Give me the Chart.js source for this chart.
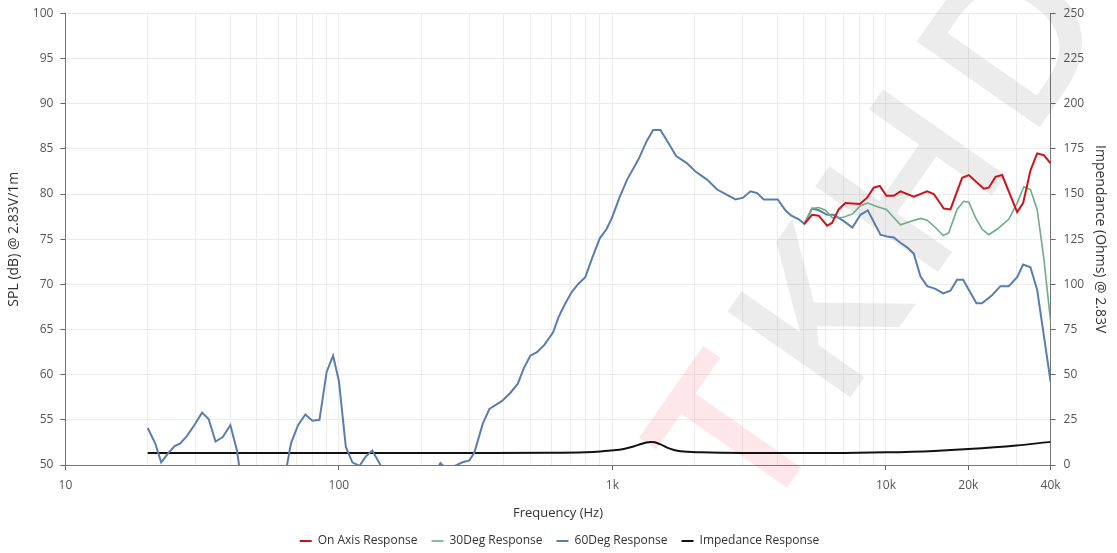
<!DOCTYPE html>
<html>
<head>
<meta charset="utf-8">
<script src="https://cdn.jsdelivr.net/npm/chart.js@4.4.1/dist/chart.umd.min.js"></script>
<style>
    html, body { margin: 0; padding: 0; background: #fff; }
    #wrap { width: 1117px; height: 553px; position: relative; }
</style>
</head>
<body>
<div id="wrap"><canvas id="spl"></canvas></div>
<script>
// 60 degree response (Hz / dB) - dips below 50 are off the bottom of the chart
const deg60Freq = [20, 21.3, 22.4, 23.9, 25.1, 26.3, 27.8, 29.6, 31.6, 33.4, 35.4, 37.6, 40.1, 42.4, 45, 50, 56, 62, 66.8,
    70.9, 75.4, 80, 84.9, 90.2, 95.2, 100, 106, 112, 118.9, 125.1, 132.4, 142, 150, 170, 200, 228, 235, 243, 260, 270,
    283, 300, 313, 336, 355, 395, 424, 451, 474, 501, 530, 564, 607, 636, 673, 712, 753, 796, 843, 899, 951, 997,
    1061, 1132, 1248, 1331, 1408, 1498, 1606, 1710, 1875, 2012, 2218, 2414, 2626, 2817, 3005, 3196, 3381, 3574, 4022,
    4290, 4513, 4800, 5034, 5370, 5678, 6095, 6443, 7010, 7543, 8068, 8581, 9550, 10100, 10680, 11300, 11950, 12640,
    13370, 14150, 15170, 16190, 17210, 18200, 19150, 21420, 22440, 24430, 26220, 28120, 30180, 31740, 33750, 35710, 40000];
const deg60Spl = [54.1, 52.4, 50.3, 51.4, 52.1, 52.4, 53.2, 54.4, 55.8, 55.1, 52.6, 53.1, 54.4, 51.6, 46, 40, 42, 47, 52.4,
    54.4, 55.6, 54.9, 55.0, 60.3, 62.1, 59.3, 52.0, 50.3, 49.9, 50.9, 51.6, 50.0, 47, 44, 46, 49.5, 50.2, 49.8, 49.8, 50.0,
    50.3, 50.5, 51.4, 54.6, 56.2, 57.1, 58.0, 59.0, 60.7, 62.1, 62.5, 63.3, 64.7, 66.4, 67.9, 69.2, 70.1, 70.8, 72.9, 75.1, 76.1, 77.4,
    79.6, 81.6, 83.9, 85.8, 87.1, 87.1, 85.6, 84.2, 83.4, 82.5, 81.6, 80.5, 79.9, 79.4, 79.6, 80.3, 80.1, 79.4, 79.4,
    78.2, 77.6, 77.2, 76.7, 78.4, 78.2, 77.7, 77.7, 77.0, 76.3, 77.7, 78.2, 75.5, 75.3, 75.2, 74.6, 74.1, 73.4,
    70.9, 69.8, 69.5, 69.0, 69.3, 70.5, 70.5, 67.9, 67.9, 68.8, 69.8, 69.8, 70.8, 72.2, 71.9, 69.4, 59.2];

// On axis response
const onAxisFreq = [5034, 5370, 5678, 6095, 6350, 6715, 7110, 8024, 8535, 9025, 9494, 10040, 10680, 11300, 12640, 14150,
    14960, 16270, 17210, 18990, 20090, 22790, 23770, 25150, 26590, 30180, 31740, 33750, 35710, 37770, 40000];
const onAxisSpl = [76.7, 77.7, 77.6, 76.5, 76.8, 78.3, 79.0, 78.9, 79.6, 80.7, 80.9, 79.8, 79.8, 80.3, 79.7, 80.3,
    80.0, 78.4, 78.3, 81.8, 82.1, 80.6, 80.7, 81.9, 82.1, 78.0, 79.0, 82.6, 84.5, 84.3, 83.4];

// 30 degree response
const deg30Freq = [5034, 5370, 5678, 6010, 6350, 6944, 7550, 8068, 8581, 9302, 10040, 10680, 11300, 12120, 13370, 14150,
    15170, 16190, 16960, 18200, 19240, 20090, 21250, 22480, 23770, 25490, 28120, 30180, 31920, 33750, 35710, 37770, 40000];
const deg30Spl = [76.7, 78.4, 78.5, 78.2, 77.4, 77.4, 77.8, 78.7, 79.0, 78.6, 78.3, 77.4, 76.6, 76.9, 77.3, 77.1,
    76.3, 75.4, 75.7, 78.3, 79.2, 79.1, 77.4, 76.1, 75.5, 76.1, 77.2, 79.0, 80.8, 80.5, 78.3, 72.9, 65.9];

// Impedance (Ohms), right axis
const impFreq = [20, 100, 300, 600, 800, 904, 1011, 1100, 1194, 1270, 1330, 1380, 1430, 1500, 1585, 1680, 1775, 2100,
    3000, 5000, 7000, 10000, 15000, 20000, 30000, 40000];
const impOhms = [6.7, 6.7, 6.7, 6.8, 7.1, 7.5, 8.1, 8.9, 10.2, 11.6, 12.5, 12.8, 12.6, 11.4, 9.6, 8.3, 7.6, 7.0,
    6.6, 6.6, 6.7, 7.0, 7.8, 8.8, 10.8, 12.8];

// tick labels shown on the frequency axis
const freqLabels = { 10: "10", 100: "100", 1000: "1k", 10000: "10k", 20000: "20k", 40000: "40k" };

const FONT = "'Open Sans', 'Liberation Sans', sans-serif";
const pts = (xs, ys) => xs.map((x, i) => ({ x: x, y: ys[i] }));

// Faint diagonal watermark behind the curves
const watermark = {
    id: "watermark",
    beforeDatasetsDraw(chart) {
        const ctx = chart.ctx;
        ctx.save();
        ctx.translate(711, 492);
        ctx.rotate(-55 * Math.PI / 180);
        ctx.font = "600 210px 'Open Sans'";
        const letters = [["T", "rgba(240,40,60,0.11)"], ["K", "rgba(60,40,40,0.09)"], ["H", "rgba(60,40,40,0.09)"], ["D", "rgba(60,40,40,0.09)"]];
        let x = 0;
        letters.forEach(([ch, col]) => {
            ctx.fillStyle = col;
            ctx.fillText(ch, x, 0);
            x += ctx.measureText(ch).width + 19;
        });
        ctx.restore();
    }
};

const chart = new Chart(document.getElementById("spl"), {
    type: "line",
    data: {
        datasets: [
            { label: "On Axis Response", data: pts(onAxisFreq, onAxisSpl), borderColor: "#d0121b", backgroundColor: "#d0121b", borderWidth: 2, yAxisID: "y" },
            { label: "30Deg Response", data: pts(deg30Freq, deg30Spl), borderColor: "#6cae88", backgroundColor: "#6cae88", borderWidth: 1.6, yAxisID: "y" },
            { label: "60Deg Response", data: pts(deg60Freq, deg60Spl), borderColor: "#5a7db0", backgroundColor: "#5a7db0", borderWidth: 2, yAxisID: "y" },
            { label: "Impedance Response", data: pts(impFreq, impOhms), borderColor: "#111", backgroundColor: "#111", borderWidth: 2, yAxisID: "y1", tension: 0.4, cubicInterpolationMode: "monotone" }
        ]
    },
    options: {
        responsive: true,
        maintainAspectRatio: false,
        animation: false,
        layout: { padding: { top: 3, left: 6, right: 4, bottom: -4 } },
        elements: { point: { radius: 0 }, line: { tension: 0 } },
        plugins: {
            legend: {
                position: "bottom",
                labels: {
                    usePointStyle: true, pointStyle: "line", pointStyleWidth: 12, boxHeight: 8,
                    color: "#333", font: { family: FONT, size: 12 }, padding: 14
                }
            },
            tooltip: { enabled: false }
        },
        scales: {
            x: {
                type: "logarithmic",
                min: 10, max: 40000,
                afterBuildTicks: axis => {
                    const t = [];
                    for (let d = 10; d <= 10000; d *= 10) {
                        for (let m = 1; m <= 9; m++) {
                            if (d * m <= 40000) t.push({ value: d * m });
                        }
                    }
                    axis.ticks = t;
                },
                ticks: {
                    autoSkip: false, maxRotation: 0, color: "#555", padding: 8,
                    font: { family: FONT, size: 12 },
                    callback: v => freqLabels[v] || ""
                },
                grid: {
                    color: "#ececec", tickLength: 5,
                    tickColor: c => (c.tick && freqLabels[c.tick.value]) ? "#666" : "rgba(0,0,0,0)"
                },
                border: { color: "#777" },
                title: { display: true, text: "Frequency (Hz)", color: "#333", font: { family: FONT, size: 13 }, padding: { top: 5, bottom: 0 } }
            },
            y: {
                position: "left",
                min: 50, max: 100,
                ticks: { stepSize: 5, color: "#555", font: { family: FONT, size: 12, lineHeight: 0.9 }, padding: 7 },
                grid: { color: "#ececec", tickLength: 5, tickColor: "#666" },
                border: { color: "#777" },
                title: { display: true, text: "SPL (dB) @ 2.83V/1m", color: "#333", font: { family: FONT, size: 14 }, padding: { top: 0, bottom: 3 } }
            },
            y1: {
                position: "right",
                min: 0, max: 250,
                ticks: { stepSize: 25, color: "#555", font: { family: FONT, size: 12, lineHeight: 0.9 }, padding: 8 },
                grid: { drawOnChartArea: false, tickLength: 5, tickColor: "#666" },
                border: { color: "#777" },
                title: { display: true, text: "Impendance (Ohms) @ 2.83V", color: "#333", font: { family: FONT, size: 14 }, padding: { top: 5, bottom: -1 } }
            }
        }
    },
    plugins: [watermark]
});
</script>
</body>
</html>
